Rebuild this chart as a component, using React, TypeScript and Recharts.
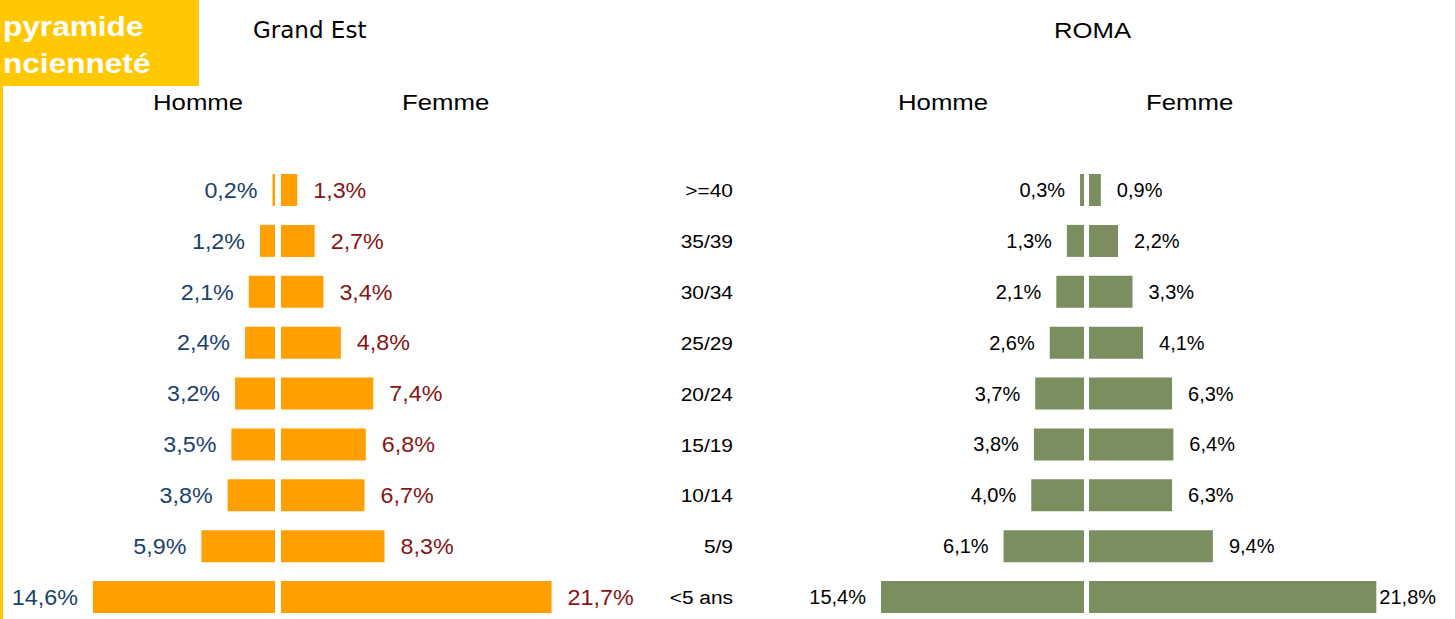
import { BarChart, Bar, XAxis, YAxis, LabelList } from "recharts"

const ages = [">=40", "35/39", "30/34", "25/29", "20/24", "15/19", "10/14", "5/9", "<5 ans"]
const grandEstHomme = [0.2, 1.2, 2.1, 2.4, 3.2, 3.5, 3.8, 5.9, 14.6]
const grandEstFemme = [1.3, 2.7, 3.4, 4.8, 7.4, 6.8, 6.7, 8.3, 21.7]
const romaHomme = [0.3, 1.3, 2.1, 2.6, 3.7, 3.8, 4.0, 6.1, 15.4]
const romaFemme = [0.9, 2.2, 3.3, 4.1, 6.3, 6.4, 6.3, 9.4, 21.8]

const ORANGE = "#FFA000"
const GREEN = "#7B8E5F"
const BLUE = "#1A426F"
const RED = "#8A1414"
const YELLOW = "#FFC800"
const FONT = "'Liberation Sans', Arial, sans-serif"

const toRows = (values: number[]) => ages.map((age, i) => ({ age, value: values[i] }))
const fmt = (v: number) => v.toFixed(1).replace(".", ",") + "%"

const TOP = 165
const HEIGHT = 458

type HalfProps = {
  values: number[]
  left: number
  width: number
  pxPerPct: number
  side: "left" | "right"
  fill: string
  labelColor: string
  fontSize: number
  stretch?: number
  axisWidth?: number
  limit?: number
}

function Half({ values, left, width, pxPerPct, side, fill, labelColor, fontSize, stretch = 1, axisWidth = 0, limit }: HalfProps) {
  const max = (width - axisWidth) / pxPerPct

  // labels sit outside the bar, on the far side from the centre line
  const renderLabel = (p: any) => {
    const x = Number(p.x)
    const w = Number(p.width)
    const y = Number(p.y) + Number(p.height) / 2
    const lo = Math.min(x, x + w)
    const hi = Math.max(x, x + w)
    const text = fmt(Number(p.value))
    let tx = side === "left" ? lo - 15 : hi + 16
    if (side === "right" && limit && tx + text.length * fontSize * 0.56 > limit) tx = hi + 3
    return (
      <text
        transform={`translate(${tx},${y}) scale(${stretch},1)`}
        textAnchor={side === "left" ? "end" : "start"}
        dominantBaseline="central"
        fill={labelColor}
        fontSize={fontSize}
        fontFamily={FONT}
      >
        {text}
      </text>
    )
  }

  return (
    <div style={{ position: "absolute", left, top: TOP }}>
      <BarChart
        width={width}
        height={HEIGHT}
        data={toRows(values)}
        layout="vertical"
        margin={{ top: 0, right: 0, bottom: 0, left: 0 }}
        barCategoryGap={0}
      >
        <XAxis type="number" domain={[0, max]} reversed={side === "left"} hide />
        {axisWidth > 0 ? (
          <YAxis
            type="category"
            dataKey="age"
            width={axisWidth}
            axisLine={false}
            tickLine={false}
            tickSize={0}
            tickMargin={8}
            interval={0}
            tick={(t: any) => (
              <text
                transform={`translate(${t.x},${t.y}) scale(1.1,1)`}
                textAnchor="end"
                dominantBaseline="central"
                fontSize={19}
                fill="#000"
                fontFamily={FONT}
              >
                {t.payload.value}
              </text>
            )}
          />
        ) : (
          <YAxis type="category" dataKey="age" hide />
        )}
        <Bar dataKey="value" fill={fill} barSize={32} isAnimationActive={false}>
          <LabelList dataKey="value" content={renderLabel} />
        </Bar>
      </BarChart>
    </div>
  )
}

const stretched = (text: string, x: number, y: number, size: number, sx = 1.3, extra: any = {}) => (
  <div
    style={{
      position: "absolute",
      left: x,
      top: y,
      fontSize: size,
      fontFamily: FONT,
      lineHeight: 1,
      whiteSpace: "nowrap",
      transform: `scaleX(${sx})`,
      transformOrigin: "left top",
      ...extra,
    }}
  >
    {text}
  </div>
)

export default function App() {
  return (
    <div
      style={{
        position: "fixed",
        left: 0,
        top: 0,
        width: 1455,
        height: 619,
        overflow: "hidden",
        background: "#fff",
        fontFamily: FONT,
        color: "#000",
      }}
    >
      <div style={{ position: "absolute", left: 0, top: 0, width: 199, height: 86, background: YELLOW }} />
      <div style={{ position: "absolute", left: 0, top: 86, width: 3, height: 533, background: YELLOW }} />
      {stretched("pyramide", 3, 14, 27, 1.17, { color: "#fff", fontWeight: "bold" })}
      {stretched("ncienneté", 3, 51, 27, 1.17, { color: "#fff", fontWeight: "bold" })}

      <div style={{ position: "absolute", left: 253, top: 19, fontSize: 23, fontFamily: "'DejaVu Sans', sans-serif", lineHeight: 1, whiteSpace: "nowrap" }}>
        Grand Est
      </div>
      {stretched("ROMA", 1054, 20, 22, 1.17)}
      {stretched("Homme", 153, 92, 22, 1.17)}
      {stretched("Femme", 402, 92, 22, 1.17)}
      {stretched("Homme", 898, 92, 22, 1.17)}
      {stretched("Femme", 1146, 92, 22, 1.17)}

      <Half values={grandEstHomme} left={0} width={275} pxPerPct={12.47} side="left" fill={ORANGE} labelColor={BLUE} fontSize={22} stretch={1.06} />
      <Half values={grandEstFemme} left={281} width={400} pxPerPct={12.47} side="right" fill={ORANGE} labelColor={RED} fontSize={22} stretch={1.06} />
      <Half values={romaHomme} left={641} width={443} pxPerPct={13.18} side="left" fill={GREEN} labelColor="#000" fontSize={20} axisWidth={100} />
      <Half values={romaFemme} left={1089} width={366} pxPerPct={13.18} side="right" fill={GREEN} labelColor="#000" fontSize={20} limit={352} />
    </div>
  )
}
